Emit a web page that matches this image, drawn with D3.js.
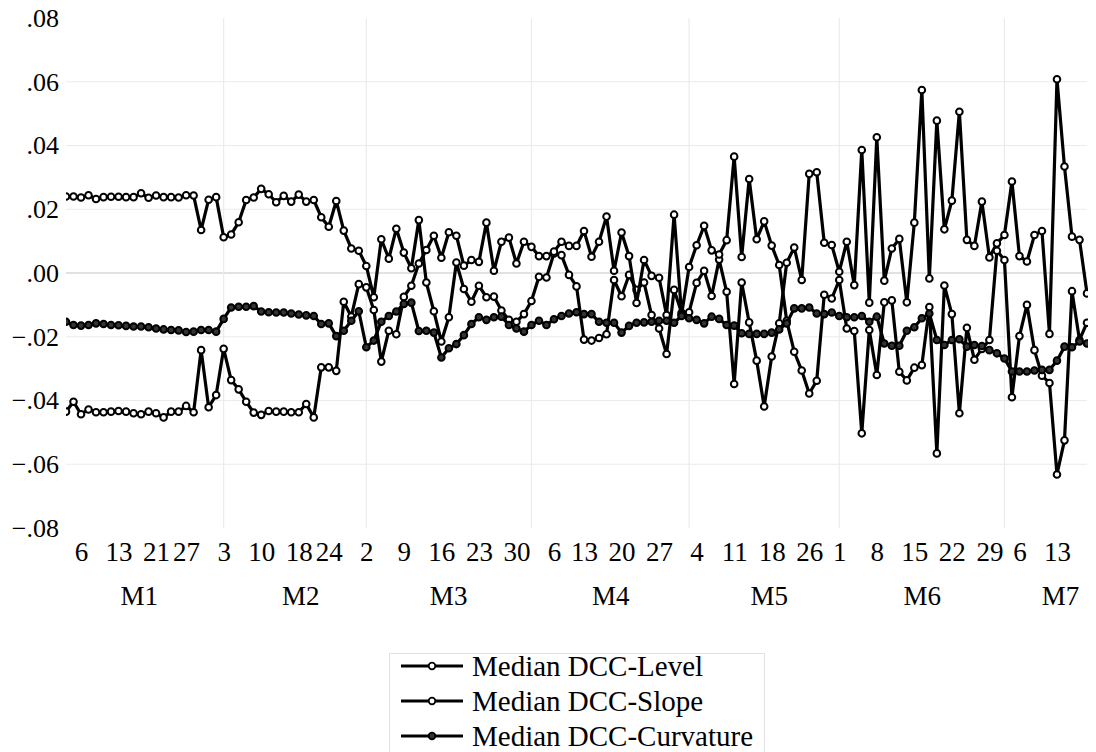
<!DOCTYPE html>
<html>
<head>
<meta charset="utf-8">
<script src="https://cdn.jsdelivr.net/npm/d3@7"></script>
<style>
body { margin: 0; background: #fff; }
svg { display: block; }
text { font-family: "Liberation Serif", "Times New Roman", serif; fill: #000; }
</style>
</head>
<body>
<script>
// daily medians, Jan 2 .. Jul 17 (trading days), one value per day
var levelVals = [
 .0240,.0240,.0237,.0244,.0232,.0238,.0239,.0239,.0238,.0238,.0250,.0236,.0243,.0238,.0238,.0237,.0244,.0243,.0135,.0230,.0238,
 .0112,.0121,.0159,.0229,.0237,.0264,.0247,.0222,.0242,.0224,.0246,.0224,.0229,.0175,.0145,.0226,.0133,.0077,.0070,
 .0022,-.0076,.0106,.0045,.0139,.0064,.0015,.0166,-.0030,-.0120,-.0215,-.0139,.0033,-.0050,-.0090,-.0040,-.0076,-.0074,-.0118,-.0147,-.0153,-.0129,
 -.0088,-.0012,-.0014,.0061,.0056,-.0006,-.0042,-.0209,-.0212,-.0204,-.0192,-.0022,-.0073,-.0006,-.0053,-.0030,-.0132,-.0174,-.0254,-.0053,-.0125,
 -.0123,-.0031,.0007,-.0072,.0042,-.0059,-.0348,-.0030,-.0155,-.0275,-.0419,-.0262,-.0158,.0032,.0080,-.0022,.0311,.0316,.0095,.0088,
 .0004,.0098,-.0038,.0386,-.0093,.0426,-.0024,.0077,.0107,-.0092,.0158,.0574,-.0017,.0478,.0137,.0227,.0506,.0104,.0085,.0224,.0049,.0093,
 .0119,.0287,.0053,.0036,.0119,.0132,-.0191,.0608,.0334,.0114,.0104,-.0064
];
var slopeVals = [
 -.0435,-.0404,-.0443,-.0428,-.0437,-.0437,-.0435,-.0433,-.0435,-.0440,-.0443,-.0435,-.0440,-.0453,-.0435,-.0435,-.0417,-.0437,-.0242,-.0421,-.0383,
 -.0238,-.0336,-.0365,-.0404,-.0438,-.0445,-.0433,-.0435,-.0435,-.0437,-.0437,-.0411,-.0453,-.0296,-.0296,-.0307,-.0090,-.0137,-.0035,
 -.0045,-.0116,-.0278,-.0181,-.0192,-.0075,-.0040,.0030,.0072,.0117,.0048,.0128,.0117,.0023,.0041,.0035,.0158,.0007,.0098,.0111,.0030,.0098,
 .0082,.0053,.0053,.0067,.0098,.0085,.0085,.0132,.0051,.0098,.0177,.0007,.0127,.0053,-.0094,.0041,-.0009,-.0015,-.0132,.0183,-.0130,
 .0019,.0087,.0148,.0071,.0058,.0103,.0365,.0050,.0295,.0106,.0162,.0086,.0025,-.0150,-.0247,-.0306,-.0378,-.0338,-.0068,-.0080,
 -.0022,-.0174,-.0182,-.0503,-.0179,-.0320,-.0092,-.0086,-.0310,-.0337,-.0297,-.0289,-.0107,-.0566,-.0039,-.0129,-.0440,-.0172,-.0272,-.0238,-.0210,.0070,
 .0041,-.0390,-.0198,-.0100,-.0242,-.0322,-.0345,-.0632,-.0525,-.0057,-.0210,-.0156
];
var curvVals = [
 -.0153,-.0163,-.0165,-.0163,-.0158,-.0160,-.0163,-.0164,-.0166,-.0168,-.0168,-.0170,-.0174,-.0177,-.0179,-.0180,-.0185,-.0184,-.0179,-.0179,-.0184,
 -.0144,-.0108,-.0106,-.0106,-.0104,-.0121,-.0123,-.0124,-.0124,-.0127,-.0130,-.0133,-.0135,-.0160,-.0158,-.0198,-.0181,-.0150,-.0120,
 -.0233,-.0212,-.0153,-.0135,-.0121,-.0097,-.0093,-.0182,-.0181,-.0187,-.0265,-.0236,-.0223,-.0195,-.0160,-.0139,-.0147,-.0139,-.0137,-.0163,-.0174,-.0184,
 -.0163,-.0150,-.0163,-.0145,-.0135,-.0127,-.0123,-.0129,-.0129,-.0153,-.0156,-.0156,-.0187,-.0166,-.0156,-.0155,-.0153,-.0150,-.0150,-.0156,-.0135,
 -.0142,-.0147,-.0158,-.0137,-.0144,-.0163,-.0165,-.0189,-.0191,-.0191,-.0191,-.0187,-.0177,-.0158,-.0111,-.0111,-.0108,-.0127,-.0129,-.0124,
 -.0135,-.0139,-.0139,-.0135,-.0153,-.0137,-.0221,-.0228,-.0228,-.0181,-.0170,-.0142,-.0127,-.0210,-.0226,-.0210,-.0208,-.0231,-.0226,-.0229,-.0242,-.0252,
 -.0268,-.0309,-.0309,-.0309,-.0306,-.0304,-.0304,-.0275,-.0231,-.0233,-.0215,-.0221
];

// axis labels (x positions given as observation index)
var dayTickIdx  = [2, 7, 12, 16, 21, 26, 31, 35, 40, 45, 50, 55, 60, 65, 69, 74, 79, 84, 89, 94, 99, 103, 108, 113, 118, 123, 127, 132];
var dayTickText = ["6","13","21","27","3","10","18","24","2","9","16","23","30","6","13","20","27","4","11","18","26","1","8","15","22","29","6","13"];
var monthStartIdx = [21, 40, 62, 83, 103, 125];
var monthLabelIdx = [9.7, 31.2, 50.9, 72.5, 93.6, 114, 132.4];
var monthNames = ["M1","M2","M3","M4","M5","M6","M7"];
var yTicks = [-0.08, -0.06, -0.04, -0.02, 0, 0.02, 0.04, 0.06, 0.08];
var seriesNames = ["Median DCC-Level", "Median DCC-Slope", "Median DCC-Curvature"];

var w = 1096, h = 752;
var x0 = 66, x1 = 1087, yTop = 18, yBot = 528;

var svg = d3.select("body").append("svg")
    .attr("width", w)
    .attr("height", h);

var x = d3.scaleLinear().domain([0, levelVals.length - 1]).range([x0, x1]);
var y = d3.scaleLinear().domain([-0.08, 0.08]).range([yBot, yTop]);

svg.append("clipPath").attr("id", "plotclip")
  .append("rect").attr("x", x0).attr("y", 0).attr("width", x1 - x0 + 1).attr("height", h);

// grid
var grid = svg.append("g");
grid.selectAll("line.hg").data(yTicks.filter(function (d) { return Math.abs(d) < 0.07; }))
  .enter().append("line")
    .attr("x1", x0).attr("x2", x1)
    .attr("y1", function (d) { return y(d); }).attr("y2", function (d) { return y(d); })
    .attr("stroke", function (d) { return d === 0 ? "#c4c4c4" : "#ebebeb"; })
    .attr("stroke-width", 1.2);
grid.selectAll("line.vg").data(monthStartIdx)
  .enter().append("line")
    .attr("x1", function (d) { return x(d); }).attr("x2", function (d) { return x(d); })
    .attr("y1", yTop).attr("y2", yBot)
    .attr("stroke", "#ebebeb")
    .attr("stroke-width", 1.2);

var series = [
  { name: seriesNames[0], vals: levelVals, fill: "#fff" },
  { name: seriesNames[1], vals: slopeVals, fill: "#fff" },
  { name: seriesNames[2], vals: curvVals, fill: "#333" }
];

var line = d3.line()
    .x(function (d, i) { return x(i); })
    .y(function (d) { return y(d); });

var plot = svg.append("g").attr("clip-path", "url(#plotclip)");

series.forEach(function (s) {
    var g = plot.append("g");
    g.append("path")
        .attr("d", line(s.vals))
        .attr("fill", "none")
        .attr("stroke", "#000")
        .attr("stroke-width", 3.2)
        .attr("stroke-linejoin", "round");
    g.selectAll("circle").data(s.vals).enter().append("circle")
        .attr("cx", function (d, i) { return x(i); })
        .attr("cy", function (d) { return y(d); })
        .attr("r", 3.3)
        .attr("fill", s.fill)
        .attr("stroke", "#000")
        .attr("stroke-width", 2);
});

// y axis
var fmt = function (d) { return d3.format(".2f")(d).replace("0.", "."); };
var yAxis = svg.append("g")
    .attr("transform", "translate(59,0)")
    .call(d3.axisLeft(y).tickValues(yTicks).tickSize(0).tickPadding(0).tickFormat(fmt));
yAxis.select(".domain").remove();
yAxis.selectAll("text").style("font-size", "26px").style("font-family", "Liberation Serif");

// x axis: days
var xAxis = svg.append("g")
    .attr("transform", "translate(0,542)")
    .call(d3.axisBottom(x).tickValues(dayTickIdx).tickSize(0).tickPadding(0)
        .tickFormat(function (d, i) { return dayTickText[i]; }));
xAxis.select(".domain").remove();
xAxis.selectAll("text").style("font-size", "27px").style("font-family", "Liberation Serif");

// x axis: months
var mAxis = svg.append("g")
    .attr("transform", "translate(0,586)")
    .call(d3.axisBottom(x).tickValues(monthLabelIdx).tickSize(0).tickPadding(0)
        .tickFormat(function (d, i) { return monthNames[i]; }));
mAxis.select(".domain").remove();
mAxis.selectAll("text").style("font-size", "27px").style("font-family", "Liberation Serif");

// legend
var leg = svg.append("g");
leg.append("rect")
    .attr("x", 389.5).attr("y", 653.5)
    .attr("width", 375).attr("height", 120)
    .attr("fill", "#fff").attr("stroke", "#e2e2e2");
series.forEach(function (s, i) {
    var ly = 666 + i * 35;
    leg.append("line")
        .attr("x1", 401).attr("x2", 463).attr("y1", ly).attr("y2", ly)
        .attr("stroke", "#000").attr("stroke-width", 3.2);
    leg.append("circle")
        .attr("cx", 432).attr("cy", ly).attr("r", 3.3)
        .attr("fill", s.fill).attr("stroke", "#000").attr("stroke-width", 1.8);
    leg.append("text")
        .attr("x", 472).attr("y", ly).attr("dy", "0.35em")
        .style("font-size", "29px")
        .text(s.name);
});
</script>
</body>
</html>
